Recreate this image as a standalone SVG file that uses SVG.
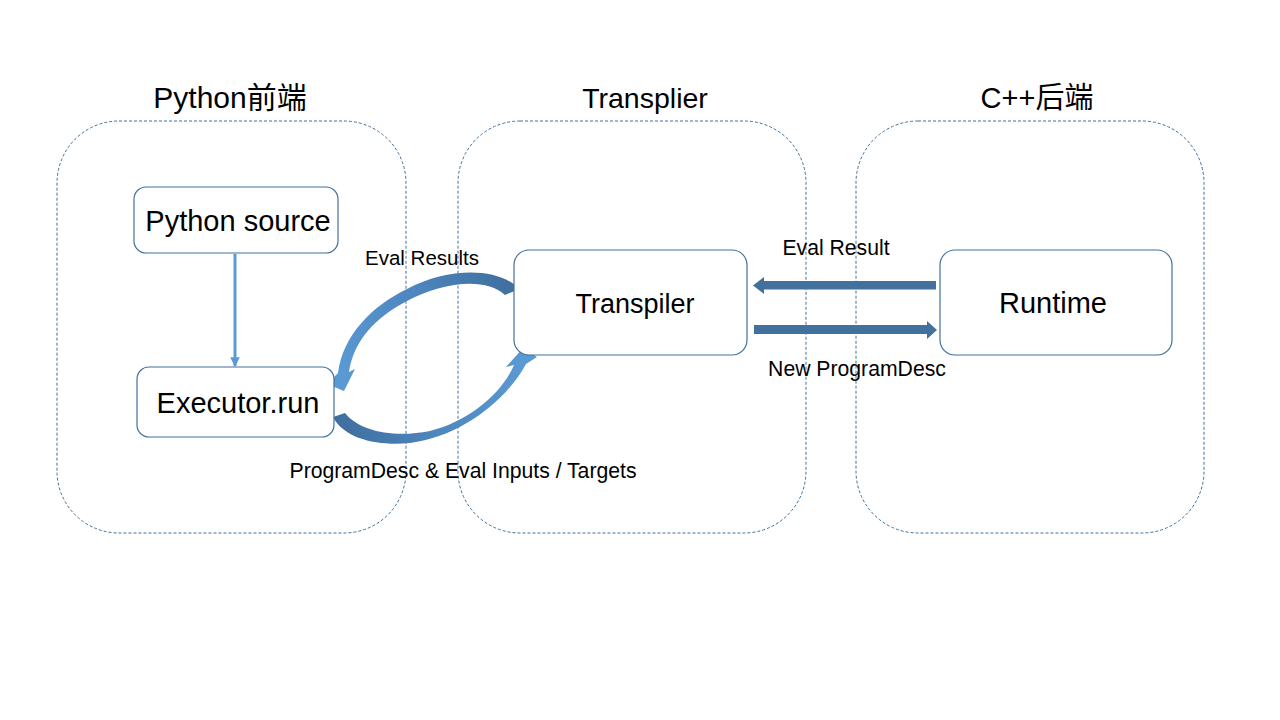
<svg xmlns="http://www.w3.org/2000/svg" width="1280" height="720" viewBox="0 0 1280 720">
<style>
.grp{fill:#fff;stroke:#41719C;stroke-width:1;stroke-dasharray:3 2}
.node{fill:#fff;stroke:#41719C;stroke-width:1.2}
.t{font-family:"Liberation Sans",Arial,"Noto Sans CJK SC",sans-serif;fill:#000;text-anchor:middle}
.title{font-size:29px}
.ntext{font-size:29px}
.lbl{font-size:21.2px}
.fat{fill:#41719C}
</style>
<defs>
<linearGradient id="gTop" gradientUnits="userSpaceOnUse" x1="519" y1="290" x2="335" y2="385">
<stop offset="0" stop-color="#3F6E9E"/>
<stop offset="0.45" stop-color="#4E86BE"/>
<stop offset="1" stop-color="#5B9BD5"/>
</linearGradient>
<linearGradient id="gBot" gradientUnits="userSpaceOnUse" x1="333" y1="420" x2="530" y2="355">
<stop offset="0" stop-color="#3F6E9E"/>
<stop offset="0.45" stop-color="#4E86BE"/>
<stop offset="1" stop-color="#5B9BD5"/>
</linearGradient>
<marker id="ah" viewBox="0 0 10 10" refX="9" refY="5" markerWidth="3.2" markerHeight="3.2" orient="auto" markerUnits="strokeWidth">
<path d="M0,0 L10,5 L0,10 z" fill="#5B9BD5"/>
</marker>
</defs>
<rect width="1280" height="720" fill="#fff"/>

<g id="group-python">
<rect class="grp" x="57" y="121" width="349" height="412" rx="62"/>
<text class="t title" x="230" y="108" style="font-size:30px">Python前端</text>
</g>
<g id="group-transplier">
<rect class="grp" x="458" y="121" width="348" height="412" rx="62"/>
<text class="t title" x="645" y="108" style="font-size:28.5px">Transplier</text>
</g>
<g id="group-cpp">
<rect class="grp" x="856" y="121" width="348" height="412" rx="62"/>
<text class="t title" x="1037" y="108">C++后端</text>
</g>

<g id="connectors">
<line x1="235" y1="254" x2="235" y2="366" stroke="#5B9BD5" stroke-width="3" marker-end="url(#ah)"/>
<path class="fat" d="M936,281 L764,281 L764,277 L753,285.5 L764,294 L764,289.5 L936,289.5 z"/>
<path class="fat" d="M754,325 L927,325 L927,321 L937,330 L927,339 L927,334 L754,334 z"/>
<path fill="url(#gTop)" d="M519,289 C500,268 450,266 407,289 C372,306 343,335 338,373 L327,384 L344,391 L355,369 L349,372 C354,340 375,318 407,301 C440,283 485,276 505,295 z"/>
<path fill="url(#gBot)" d="M333,417 C345,440 380,446 410,443 C460,437 506,401 526,364 L537,357 L523,348 L506,367 L514,365 C502,393 470,421 430,431 C395,438 360,432 345,413 z"/>
</g>

<g id="node-python-source">
<rect class="node" x="134" y="187" width="204" height="66" rx="12"/>
<text class="t ntext" x="238" y="231">Python source</text>
</g>
<g id="node-executor">
<rect class="node" x="137" y="367" width="197" height="70" rx="12"/>
<text class="t ntext" x="238" y="413">Executor.run</text>
</g>
<g id="node-transpiler">
<rect class="node" x="514" y="250" width="233" height="105" rx="15"/>
<text class="t ntext" x="635" y="313" style="font-size:27px">Transpiler</text>
</g>
<g id="node-runtime">
<rect class="node" x="940" y="250" width="232" height="105" rx="15"/>
<text class="t ntext" x="1053" y="313">Runtime</text>
</g>

<g id="labels">
<text class="t lbl" x="422" y="265" style="font-size:20.5px">Eval Results</text>
<text class="t lbl" x="836" y="255">Eval Result</text>
<text class="t lbl" x="857" y="376">New ProgramDesc</text>
<text class="t lbl" x="463" y="478">ProgramDesc &amp; Eval Inputs / Targets</text>
</g>
</svg>
